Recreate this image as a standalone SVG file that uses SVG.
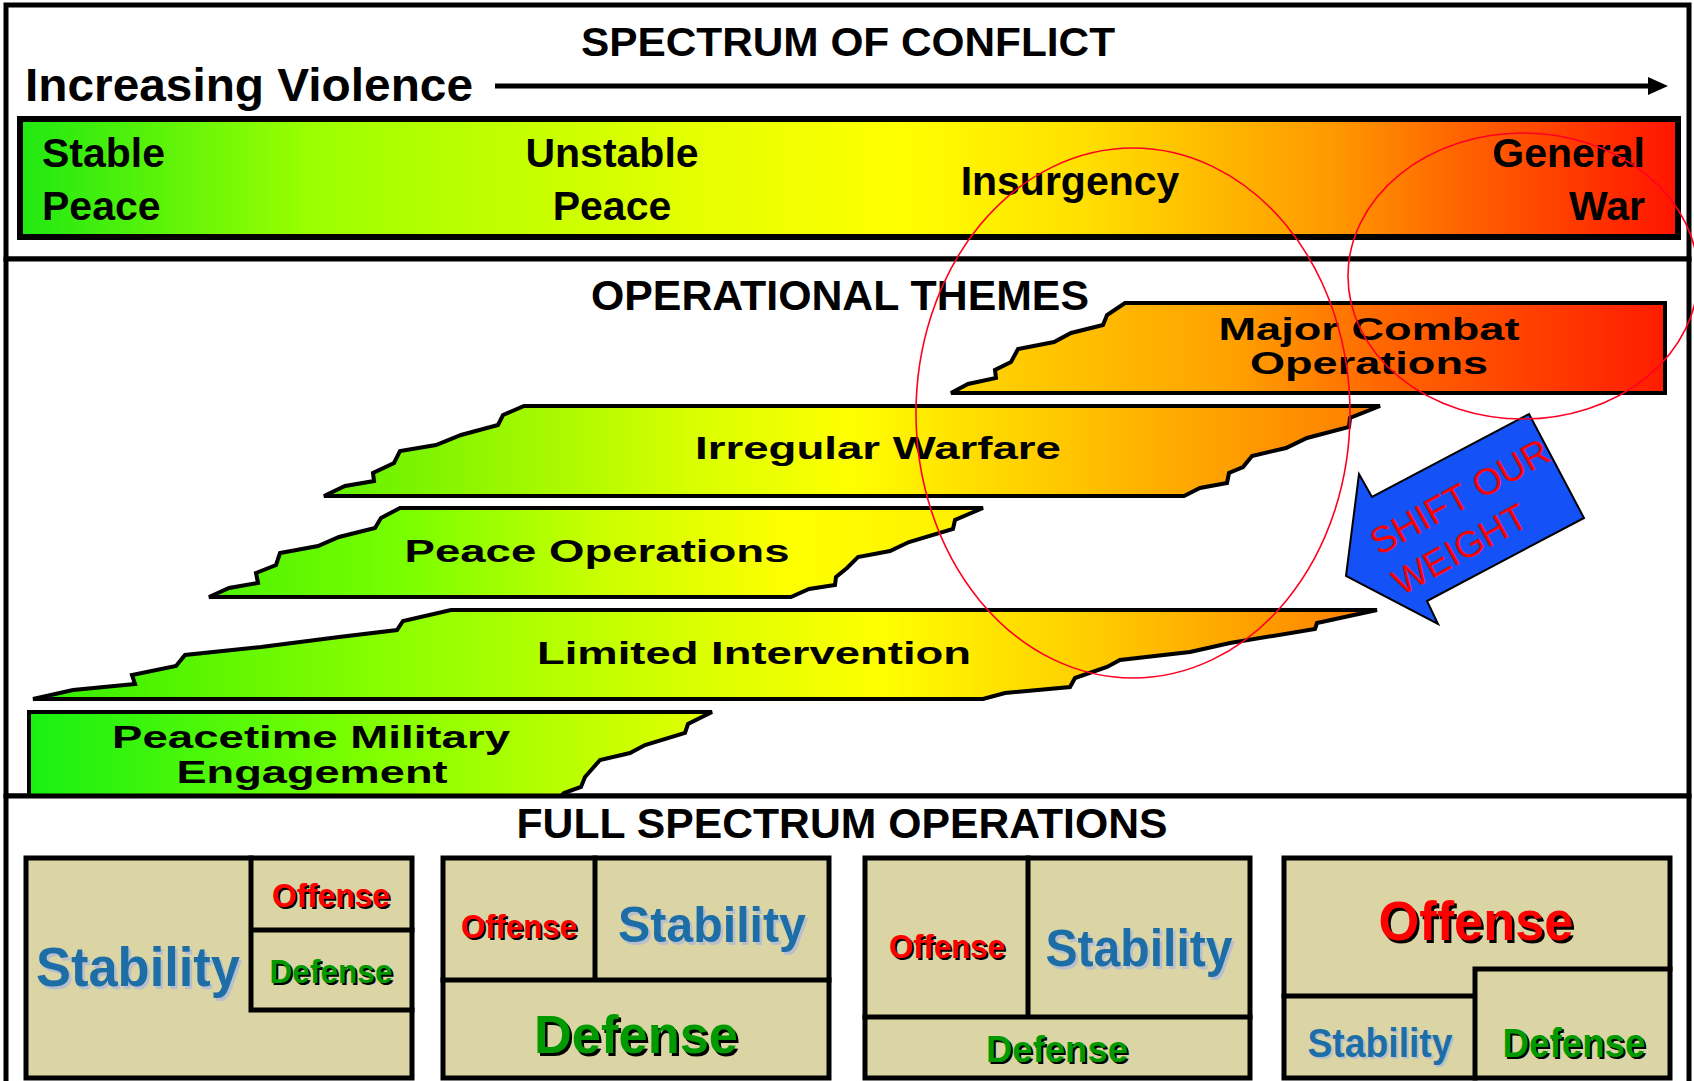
<svg xmlns="http://www.w3.org/2000/svg" width="1694" height="1081" viewBox="0 0 1694 1081">
<defs>
<linearGradient id="gBar" gradientUnits="userSpaceOnUse" x1="20" y1="0" x2="1680" y2="0">
<stop offset="0" stop-color="#20e812"/>
<stop offset="0.176" stop-color="#9cff00"/>
<stop offset="0.41" stop-color="#e6ff00"/>
<stop offset="0.53" stop-color="#ffff00"/>
<stop offset="0.64" stop-color="#ffe000"/>
<stop offset="0.73" stop-color="#ffb400"/>
<stop offset="0.79" stop-color="#ff9a00"/>
<stop offset="0.867" stop-color="#ff6400"/>
<stop offset="1" stop-color="#ff1400"/>
</linearGradient>
<linearGradient id="gMCO" x1="0" y1="0" x2="1" y2="0">
<stop offset="0" stop-color="#ffd800"/>
<stop offset="0.4" stop-color="#ffa000"/>
<stop offset="0.6" stop-color="#ff6800"/>
<stop offset="1" stop-color="#ff1c00"/>
</linearGradient>
<linearGradient id="gIW" x1="0" y1="0" x2="1" y2="0">
<stop offset="0" stop-color="#5ef000"/>
<stop offset="0.35" stop-color="#d8ff00"/>
<stop offset="0.5" stop-color="#ffff00"/>
<stop offset="0.65" stop-color="#ffd400"/>
<stop offset="0.8" stop-color="#ffac00"/>
<stop offset="1" stop-color="#ff7c00"/>
</linearGradient>
<linearGradient id="gPO" x1="0" y1="0" x2="1" y2="0">
<stop offset="0" stop-color="#4cf000"/>
<stop offset="0.25" stop-color="#78ff00"/>
<stop offset="0.5" stop-color="#c8ff00"/>
<stop offset="0.75" stop-color="#ffff00"/>
<stop offset="1" stop-color="#ffee00"/>
</linearGradient>
<linearGradient id="gLI" x1="0" y1="0" x2="1" y2="0">
<stop offset="0" stop-color="#30ee00"/>
<stop offset="0.27" stop-color="#8cff00"/>
<stop offset="0.5" stop-color="#dcff00"/>
<stop offset="0.63" stop-color="#ffff00"/>
<stop offset="0.79" stop-color="#ffcc00"/>
<stop offset="1" stop-color="#ff7c00"/>
</linearGradient>
<linearGradient id="gPME" x1="0" y1="0" x2="1" y2="0">
<stop offset="0" stop-color="#18f012"/>
<stop offset="0.5" stop-color="#80ff00"/>
<stop offset="1" stop-color="#e4ff00"/>
</linearGradient>
<marker id="arrowHead" markerUnits="userSpaceOnUse" markerWidth="20" markerHeight="18" refX="0" refY="9" orient="auto">
<path d="M0,0 L20,9 L0,18 Z" fill="#000"/>
</marker>
</defs>
<style>
.panel{fill:#fff;stroke:#000;stroke-width:5}
.t{font-family:"Liberation Sans",Arial,Helvetica,sans-serif;font-weight:bold;fill:#000}
.title{font-size:41px}
.bar{font-size:41px}
.theme{stroke:#000;stroke-width:4;stroke-linejoin:miter}
.tl{font-size:32px}
.box{fill:#dbd5a6;stroke:#000;stroke-width:5}
.div{fill:none;stroke:#000;stroke-width:5;stroke-linecap:square}
.off{fill:#ff0000}
.def{fill:#009a00}
.stb{fill:#1d6ea6}
.shk{fill:#000}
.shs{fill:#b8bfcc}
.ring{fill:none;stroke:#ff0022;stroke-width:1.6}
.shift{font-family:"Liberation Sans",Arial,Helvetica,sans-serif;font-size:37px;fill:#ff0000}
</style>
<rect width="1694" height="1081" fill="#fff"/>

<g id="panel-spectrum">
<rect class="panel" x="6" y="5" width="1683" height="254"/>
<text class="t title" x="848" y="56" text-anchor="middle" textLength="534" lengthAdjust="spacingAndGlyphs">SPECTRUM OF CONFLICT</text>
<text class="t" x="25" y="101" font-size="46" textLength="448" lengthAdjust="spacingAndGlyphs">Increasing Violence</text>
</g>

<g id="spectrum-bar">
<rect x="20" y="119" width="1658" height="118" fill="url(#gBar)" stroke="#000" stroke-width="6"/>
<text class="t bar" x="42" y="167">Stable</text>
<text class="t bar" x="42" y="220">Peace</text>
<text class="t bar" x="612" y="167" text-anchor="middle">Unstable</text>
<text class="t bar" x="612" y="220" text-anchor="middle">Peace</text>
<text class="t bar" x="1070" y="195" text-anchor="middle">Insurgency</text>
<text class="t bar" x="1645" y="167" text-anchor="end">General</text>
<text class="t bar" x="1645" y="220" text-anchor="end">War</text>
</g>

<g id="panel-themes">
<rect class="panel" x="6" y="259" width="1683" height="537"/>
<text class="t" x="840" y="310" font-size="42" text-anchor="middle" textLength="498" lengthAdjust="spacingAndGlyphs">OPERATIONAL THEMES</text>
</g>

<g id="theme-major-combat">
<polygon class="theme" fill="url(#gMCO)" points="1125,303 1665,303 1665,393 951,393 968,384 996,378 995,370 1011,362 1018,349 1054,342 1071,333 1103,325 1107,315"/>
<text class="t tl" x="1369" y="340" text-anchor="middle" textLength="301" lengthAdjust="spacingAndGlyphs">Major Combat</text>
<text class="t tl" x="1369" y="374" text-anchor="middle" textLength="238" lengthAdjust="spacingAndGlyphs">Operations</text>
</g>

<g id="theme-irregular-warfare">
<polygon class="theme" fill="url(#gIW)" points="524,406 1380,406 1350,418 1349,427 1307,438 1286,448 1252,456 1243,467 1229,473 1227,483 1200,488 1184,496 324,496 345,486 374,481 373,473 394,463 400,451 436,445 461,435 498,425 503,415"/>
<text class="t tl" x="878" y="459" text-anchor="middle" textLength="366" lengthAdjust="spacingAndGlyphs">Irregular Warfare</text>
</g>

<g id="theme-peace-operations">
<polygon class="theme" fill="url(#gPO)" points="400,508 983,508 955,520 953,529 909,542 890,551 858,557 847,568 836,577 835,585 809,589 791,597 209,597 229,588 258,583 256,573 276,565 280,553 318,546 339,537 375,528 381,518"/>
<text class="t tl" x="597" y="562" text-anchor="middle" textLength="385" lengthAdjust="spacingAndGlyphs">Peace Operations</text>
</g>

<g id="theme-limited-intervention">
<polygon class="theme" fill="url(#gLI)" points="451,610 1377,610 1317,623 1315,629 1230,643 1190,652 1120,660 1107,667 1075,678 1070,687 1005,693 983,699 33,699 73,690 135,684 132,675 176,666 185,655 261,647 339,637 397,630 403,621"/>
<text class="t tl" x="754" y="664" text-anchor="middle" textLength="434" lengthAdjust="spacingAndGlyphs">Limited Intervention</text>
</g>

<g id="theme-peacetime-engagement">
<polygon class="theme" fill="url(#gPME)" points="29,712 712,712 688,724 685,733 645,745 630,753 600,760 585,777 581,787 564,793 560,797 29,797"/>
<text class="t tl" x="311" y="748" text-anchor="middle" textLength="398" lengthAdjust="spacingAndGlyphs">Peacetime Military</text>
<text class="t tl" x="312" y="783" text-anchor="middle" textLength="271" lengthAdjust="spacingAndGlyphs">Engagement</text>
</g>

<g id="panel-full-spectrum">
<rect class="panel" x="6" y="796" width="1683" height="300"/>
<text class="t" x="842" y="838" font-size="42" text-anchor="middle" textLength="651" lengthAdjust="spacingAndGlyphs">FULL SPECTRUM OPERATIONS</text>
</g>

<g id="fso-box-1">
<rect class="box" x="26" y="858" width="386" height="220"/>
<path class="div" d="M251,858 V1010 H412 M251,930 H412"/>
<text class="t shs" x="140.5" y="988.5" font-size="55" text-anchor="middle" textLength="204" lengthAdjust="spacingAndGlyphs">Stability</text>
<text class="t stb" x="138" y="986" font-size="55" text-anchor="middle" textLength="204" lengthAdjust="spacingAndGlyphs">Stability</text>
<text class="t shk" x="333" y="909" font-size="34" text-anchor="middle" textLength="118" lengthAdjust="spacingAndGlyphs">Offense</text>
<text class="t off" x="331" y="907" font-size="34" text-anchor="middle" textLength="118" lengthAdjust="spacingAndGlyphs">Offense</text>
<text class="t shk" x="333" y="985" font-size="33" text-anchor="middle" textLength="123" lengthAdjust="spacingAndGlyphs">Defense</text>
<text class="t def" x="331" y="983" font-size="33" text-anchor="middle" textLength="123" lengthAdjust="spacingAndGlyphs">Defense</text>
</g>

<g id="fso-box-2">
<rect class="box" x="443" y="858" width="386" height="220"/>
<path class="div" d="M595,858 V980 M443,980 H829"/>
<text class="t shk" x="521" y="940" font-size="34" text-anchor="middle" textLength="116" lengthAdjust="spacingAndGlyphs">Offense</text>
<text class="t off" x="519" y="938" font-size="34" text-anchor="middle" textLength="116" lengthAdjust="spacingAndGlyphs">Offense</text>
<text class="t shs" x="714.5" y="944.5" font-size="50" text-anchor="middle" textLength="188" lengthAdjust="spacingAndGlyphs">Stability</text>
<text class="t stb" x="712" y="942" font-size="50" text-anchor="middle" textLength="188" lengthAdjust="spacingAndGlyphs">Stability</text>
<text class="t shk" x="638.5" y="1055.5" font-size="54" text-anchor="middle" textLength="204" lengthAdjust="spacingAndGlyphs">Defense</text>
<text class="t def" x="636" y="1053" font-size="54" text-anchor="middle" textLength="204" lengthAdjust="spacingAndGlyphs">Defense</text>
</g>

<g id="fso-box-3">
<rect class="box" x="865" y="858" width="385" height="220"/>
<path class="div" d="M1028,858 V1017 M865,1017 H1250"/>
<text class="t shk" x="949" y="960" font-size="33" text-anchor="middle" textLength="116" lengthAdjust="spacingAndGlyphs">Offense</text>
<text class="t off" x="947" y="958" font-size="33" text-anchor="middle" textLength="116" lengthAdjust="spacingAndGlyphs">Offense</text>
<text class="t shs" x="1141.5" y="968.5" font-size="51" text-anchor="middle" textLength="187" lengthAdjust="spacingAndGlyphs">Stability</text>
<text class="t stb" x="1139" y="966" font-size="51" text-anchor="middle" textLength="187" lengthAdjust="spacingAndGlyphs">Stability</text>
<text class="t shk" x="1059" y="1064" font-size="37" text-anchor="middle" textLength="142" lengthAdjust="spacingAndGlyphs">Defense</text>
<text class="t def" x="1057" y="1062" font-size="37" text-anchor="middle" textLength="142" lengthAdjust="spacingAndGlyphs">Defense</text>
</g>

<g id="fso-box-4">
<rect class="box" x="1284" y="858" width="386" height="220"/>
<path class="div" d="M1284,996 H1475 M1475,969 V1078 M1475,969 H1670"/>
<text class="t shk" x="1478.5" y="942.5" font-size="56" text-anchor="middle" textLength="195" lengthAdjust="spacingAndGlyphs">Offense</text>
<text class="t off" x="1476" y="940" font-size="56" text-anchor="middle" textLength="195" lengthAdjust="spacingAndGlyphs">Offense</text>
<text class="t shs" x="1382" y="1059" font-size="40" text-anchor="middle" textLength="145" lengthAdjust="spacingAndGlyphs">Stability</text>
<text class="t stb" x="1380" y="1057" font-size="40" text-anchor="middle" textLength="145" lengthAdjust="spacingAndGlyphs">Stability</text>
<text class="t shk" x="1576" y="1059" font-size="40" text-anchor="middle" textLength="143" lengthAdjust="spacingAndGlyphs">Defense</text>
<text class="t def" x="1574" y="1057" font-size="40" text-anchor="middle" textLength="143" lengthAdjust="spacingAndGlyphs">Defense</text>
</g>

<g id="shift-arrow">
<polygon points="1529,414 1584,518 1427,601 1438,624 1346,576 1359,474 1372,497" fill="#1452f7" stroke="#000" stroke-width="2" stroke-linejoin="miter"/>
<g transform="translate(1379,556) rotate(-29)">
<text class="shift" x="0" y="0">SHIFT OUR</text>
<text class="shift" x="0" y="46">WEIGHT</text>
</g>
</g>

<g id="connectors">
<line x1="495" y1="86" x2="1648" y2="86" stroke="#000" stroke-width="5" marker-end="url(#arrowHead)"/>
</g>

<g id="highlight-rings">
<ellipse class="ring" cx="1133" cy="413" rx="217" ry="265"/>
<ellipse class="ring" cx="1523" cy="276" rx="175" ry="143"/>
</g>
</svg>
